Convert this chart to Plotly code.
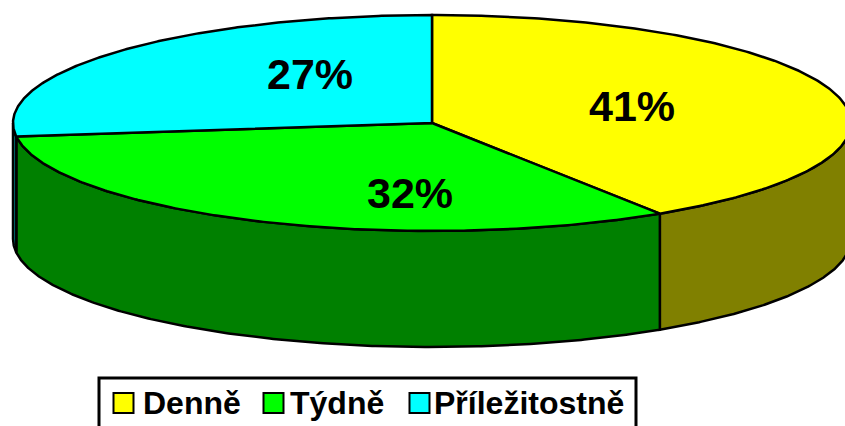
import numpy as np
import plotly.graph_objects as go

categories = ["Denně", "Týdně", "Příležitostně"]
shares = [40.85, 32.15, 27.0]
top_colors = ["#FFFF00", "#00FF00", "#00FFFF"]
side_colors = ["#808000", "#008000", "#008080"]
label_pos = [(632, 106), (410, 193), (310, 74)]
swatch_x = [123.5, 273.5, 419.5]
legend_text_x = [143, 290, 434]

W, H = 845, 426
CX, CY, RX, RY, DEPTH = 432, 123, 419, 108, 116
FONT = "Liberation Sans, Arial, sans-serif"


def arc(t0, t1, dy=0):
    t = np.radians(np.linspace(t0, t1, 240))
    return CX + RX * np.sin(t), CY + dy - RY * np.cos(t)


edges = np.concatenate([[0], np.cumsum(shares)]) * 3.6
fig = go.Figure()

# side walls: only the part of each slice facing the viewer (90..270 degrees)
for i, name in enumerate(categories):
    a, b = max(edges[i], 90), min(edges[i + 1], 270)
    if b <= a:
        continue
    x0, y0 = arc(a, b)
    x1, y1 = arc(b, a, DEPTH)
    fig.add_trace(go.Scatter(
        x=np.r_[x0, x1, x0[0]], y=np.r_[y0, y1, y0[0]],
        mode="lines", fill="toself", fillcolor=side_colors[i],
        line=dict(color="black", width=2.5), name=name + " (bok)",
        hoverinfo="skip", showlegend=False))

# top faces
for i, name in enumerate(categories):
    x0, y0 = arc(edges[i], edges[i + 1])
    fig.add_trace(go.Scatter(
        x=np.r_[CX, x0, CX], y=np.r_[CY, y0, CY],
        mode="lines", fill="toself", fillcolor=top_colors[i],
        line=dict(color="black", width=2.5), name=name,
        hoverinfo="skip", showlegend=False))

annotations = [
    dict(x=p[0], y=p[1], text=f"<b>{round(s)}%</b>", showarrow=False,
         font=dict(family=FONT, size=43, color="black"),
         xanchor="center", yanchor="middle")
    for s, p in zip(shares, label_pos)
]
annotations += [
    dict(x=x, y=403, text=f"<b>{c}</b>", showarrow=False,
         font=dict(family=FONT, size=32, color="black"),
         xanchor="left", yanchor="middle", xshift=-2)
    for c, x in zip(categories, legend_text_x)
]

shapes = [dict(type="rect", x0=99, x1=636, y0=378, y1=440,
               line=dict(color="black", width=3), fillcolor="white", layer="below")]
shapes += [dict(type="rect", x0=x - 10, x1=x + 10, y0=393, y1=413,
                line=dict(color="black", width=2), fillcolor=c, layer="above")
           for x, c in zip(swatch_x, top_colors)]

fig.update_layout(
    width=W, height=H, margin=dict(l=0, r=0, t=0, b=0),
    paper_bgcolor="white", plot_bgcolor="white", showlegend=False,
    xaxis=dict(range=[0, W], visible=False, fixedrange=True),
    yaxis=dict(range=[H, 0], visible=False, fixedrange=True),
    annotations=annotations, shapes=shapes,
)
fig.write_html("out.html", config={"displayModeBar": False},
               post_script="document.body.style.margin='0';document.body.style.overflow='hidden';")
